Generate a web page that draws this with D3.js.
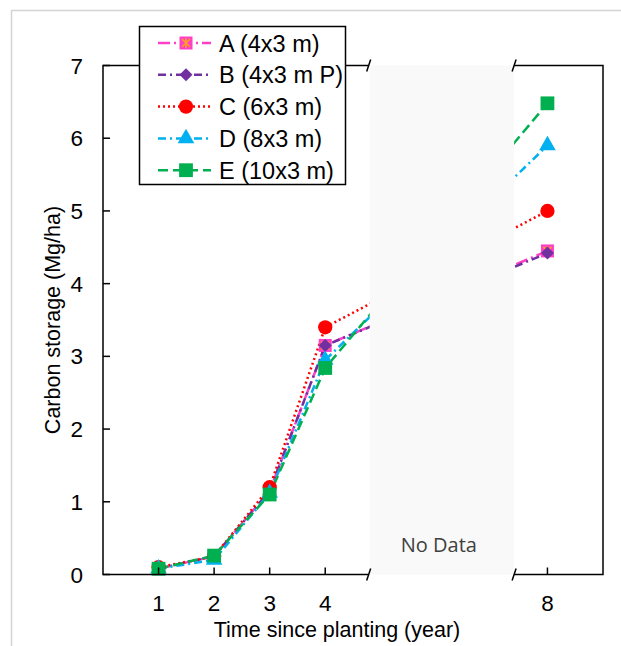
<!DOCTYPE html>
<html>
<head>
<meta charset="utf-8">
<script src="https://cdn.jsdelivr.net/npm/d3@7"></script>
<style>
  body { margin: 0; background: #fff; }
  svg { display: block; font-family: "Liberation Sans", Arial, sans-serif; }
</style>
</head>
<body>
<div id="chart"></div>
<script>
// data
const years = [1, 2, 3, 4, 8];
const seriesNames = ["A (4x3 m)", "B (4x3 m P)", "C (6x3 m)", "D (8x3 m)", "E (10x3 m)"];
const valuesA = [0.08, 0.25, 1.15, 3.15, 4.45];
const valuesB = [0.08, 0.25, 1.15, 3.15, 4.42];
const valuesC = [0.10, 0.25, 1.20, 3.40, 5.00];
const valuesD = [0.08, 0.20, 1.12, 2.95, 5.90];
const valuesE = [0.08, 0.26, 1.10, 2.84, 6.48];
const yTicks = [0, 1, 2, 3, 4, 5, 6, 7];
const xTicks = [1, 2, 3, 4, 8];
const gapRange = [4.8, 7.4]; // years with no data

const styles = [
  { color: "#ff3fc8", dash: "12,4,2,4", symbol: "star" },
  { color: "#7030a0", dash: "8,4,2,4", symbol: d3.symbolSquare, size: 85, rotate: 45 },
  { color: "#ff0000", dash: "2,3", symbol: d3.symbolCircle, size: 160 },
  { color: "#00b0f0", dash: "8,4,2,4", symbol: d3.symbolTriangle, size: 120 },
  { color: "#00b050", dash: "10,5", symbol: d3.symbolSquare, size: 190 }
];
const allValues = [valuesA, valuesB, valuesC, valuesD, valuesE];

const W = 621, H = 646;
const svg = d3.select("#chart").append("svg").attr("width", W).attr("height", H);

// outer frame (only top and left visible)
svg.append("path").attr("d", "M11.5,646V10.5H621").attr("fill", "none")
  .attr("stroke", "#d4d4d4").attr("stroke-width", 1.5);

const x = d3.scaleLinear().domain([0, 9]).range([103, 603]);
const y = d3.scaleLinear().domain([0, 7]).range([574.5, 65.5]);

// lines
const line = d3.line().x((d, i) => x(years[i])).y(d => y(d));
allValues.forEach((vals, k) => {
  svg.append("path").datum(vals)
    .attr("fill", "none")
    .attr("stroke", styles[k].color)
    .attr("stroke-width", 2.5)
    .attr("stroke-dasharray", styles[k].dash)
    .attr("d", line);
});

// no data box covers the middle of the lines
const gx0 = x(gapRange[0]), gx1 = x(gapRange[1]);
svg.append("rect").attr("x", gx0).attr("y", y(7)).attr("width", gx1 - gx0)
  .attr("height", y(0) - y(7)).attr("fill", "#f9f9f9");
svg.append("text").attr("x", (gx0 + gx1) / 2 - 3).attr("y", 552)
  .attr("text-anchor", "middle").attr("fill", "#404040")
  .style("font-family", "'Open Sans', sans-serif").style("font-size", "20px")
  .text("No Data");

function drawMarker(g, k, cx, cy) {
  const s = styles[k];
  if (s.symbol === "star") {
    g.append("rect").attr("x", cx - 6.5).attr("y", cy - 6.5).attr("width", 13).attr("height", 13)
      .attr("fill", s.color);
    g.append("path")
      .attr("d", `M${cx - 4},${cy - 4}L${cx + 4},${cy + 4}M${cx + 4},${cy - 4}L${cx - 4},${cy + 4}M${cx},${cy - 5}V${cy + 5}`)
      .attr("stroke", "#ffa020").attr("stroke-width", 1.6);
  } else {
    g.append("path").attr("transform", `translate(${cx},${cy}) rotate(${s.rotate || 0})`)
      .attr("d", d3.symbol(s.symbol, s.size)()).attr("fill", s.color);
  }
}

// markers
allValues.forEach((vals, k) => {
  const g = svg.append("g");
  vals.forEach((v, i) => drawMarker(g, k, x(years[i]), y(v)));
});

// axes frame
const axisG = svg.append("g").attr("stroke", "#000").attr("stroke-width", 1.5).attr("fill", "none");
axisG.append("path").attr("d", `M${gx0 - 1},${y(7)}H${x(0)}V${y(0)}H${gx0 - 1}`);
axisG.append("path").attr("d", `M${gx1},${y(7)}H${x(9)}V${y(0)}H${gx1}`);
[gx0 - 1, gx1].forEach(bx => {
  [y(7), y(0)].forEach(by => {
    axisG.append("line").attr("x1", bx - 2).attr("y1", by + 6).attr("x2", bx + 2).attr("y2", by - 6);
  });
});

// y ticks
yTicks.forEach(t => {
  axisG.append("line").attr("x1", x(0)).attr("x2", x(0) + 7).attr("y1", y(t)).attr("y2", y(t));
  svg.append("text").attr("x", 83).attr("y", y(t) + 8).attr("text-anchor", "end")
    .style("font-size", "22.5px").text(t);
});
// x ticks
xTicks.forEach(t => {
  axisG.append("line").attr("x1", x(t)).attr("x2", x(t)).attr("y1", y(0)).attr("y2", y(0) - 7);
  svg.append("text").attr("x", x(t)).attr("y", 611).attr("text-anchor", "middle")
    .style("font-size", "22.5px").text(t);
});

// axis titles
svg.append("text").attr("x", 337).attr("y", 637).attr("text-anchor", "middle")
  .style("font-size", "21.5px").text("Time since planting (year)");
svg.append("text").attr("transform", `translate(60,${(y(0) + y(7)) / 2}) rotate(-90)`)
  .attr("text-anchor", "middle").style("font-size", "21.5px").text("Carbon storage (Mg/ha)");

// legend
const leg = svg.append("g");
leg.append("rect").attr("x", 139.5).attr("y", 26.5).attr("width", 206).attr("height", 158)
  .attr("fill", "#fff").attr("stroke", "#000").attr("stroke-width", 1.5);
seriesNames.forEach((name, k) => {
  const ly = 43 + k * 31.8;
  leg.append("line").attr("x1", 158).attr("x2", 211).attr("y1", ly).attr("y2", ly)
    .attr("stroke", styles[k].color).attr("stroke-width", 2.5)
    .attr("stroke-dasharray", styles[k].dash);
  drawMarker(leg, k, 186, ly);
  leg.append("text").attr("x", 219).attr("y", ly + 8.5).style("font-size", "23.5px").text(name);
});
</script>
</body>
</html>
